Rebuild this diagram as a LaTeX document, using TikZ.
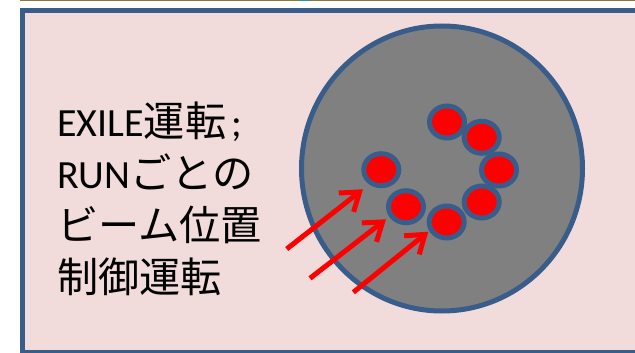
\documentclass[tikz,border=0pt]{standalone}
\usepackage{fontspec}
\setmainfont{Carlito}
\newfontfamily\cjk[Scale=1.03]{Noto Sans CJK JP}
\usetikzlibrary{shapes.geometric,arrows.meta}
\definecolor{bgpink}{RGB}{242,220,219}
\definecolor{edgeblue}{RGB}{56,93,138}
\definecolor{diskgray}{RGB}{128,128,128}
\definecolor{stripolive}{RGB}{140,120,60}
\definecolor{pureRed}{RGB}{255,0,0}
\tikzset{
  dot/.style={ellipse, draw=edgeblue, fill=pureRed, line width=5pt, minimum width=35pt, minimum height=32pt, inner sep=0pt},
  beam/.style={draw=pureRed, line width=5pt, -{Straight Barb[length=17pt,width=24pt]}},
  label/.style={anchor=base west, inner sep=0pt, font=\fontsize{40}{52}\selectfont},
}
\begin{document}
\begin{tikzpicture}[x=1pt,y=-1pt]
\useasboundingbox (0,0) rectangle (635,353);
\fill[white] (0,0) rectangle (635,353);
\fill[stripolive] (20,0) rectangle (635,1.5);
\fill[edgeblue!70!cyan] (300,0) rectangle (310,1.5);
\draw[edgeblue, fill=bgpink, line width=5pt] (22,11) rectangle (645,352);
\node[ellipse, draw=edgeblue, fill=diskgray, line width=5pt, minimum width=281pt, minimum height=285pt, inner sep=0pt] (disk) at (442,168.5) {};
\node[dot] (d1) at (447,122) {};
\node[dot] (d2) at (481.7,137.3) {};
\node[dot] (d3) at (499,170) {};
\node[dot] (d4) at (481.7,202) {};
\node[dot] (d5) at (446.7,222) {};
\node[dot] (d6) at (406,206.7) {};
\node[dot] (d7) at (381.3,169.7) {};
\coordinate (a1s) at (286.7,249);
\coordinate (a1e) at (363,189.3);
\coordinate (a2s) at (310,278.3);
\coordinate (a2e) at (386,219.3);
\coordinate (a3s) at (353.3,292.3);
\coordinate (a3e) at (428.3,231.7);
\draw[beam] (a1s) -- (a1e);
\draw[beam] (a2s) -- (a2e);
\draw[beam] (a3s) -- (a3e);
\node[label] (t1) at (57,136) {EXILE{\cjk 運転}\hspace{5pt};};
\node[label] (t2) at (57,188) {RUN{\cjk ごとの}};
\node[label] (t3) at (57,240) {{\cjk ビーム位置}};
\node[label] (t4) at (57,292) {{\cjk 制御運転}};
\end{tikzpicture}
\end{document}
